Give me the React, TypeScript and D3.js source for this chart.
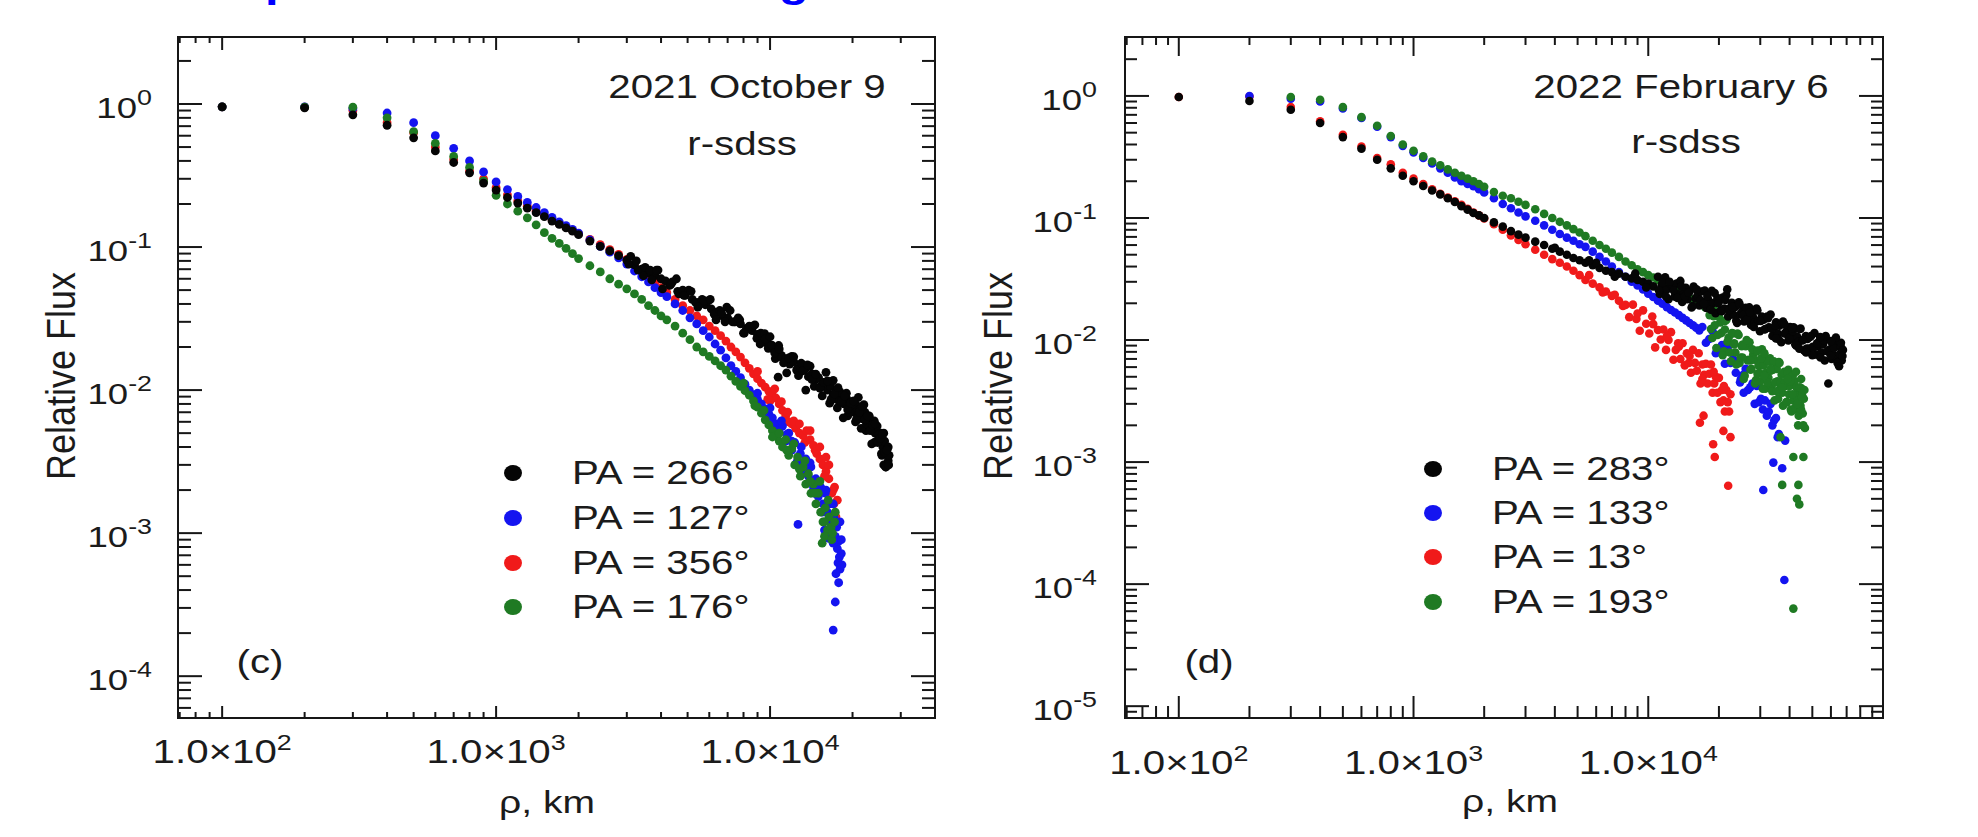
import React, { useEffect, useRef } from "react";
import * as d3 from "d3";

const W = 1978;
const H = 837;
const FONT = "'Liberation Sans', Arial, Helvetica, sans-serif";
const SX = 1.22; // the figure is stretched horizontally
const INK = "#1b1b1b";

// ---- 2021 October 9, [rho km, relative flux] ----
const octBlack = [
  [100, 0.955], [200, 0.94], [300, 0.84], [400, 0.71], [500, 0.58], [600, 0.47], [700, 0.39], [800, 0.33], [900, 0.28], [1000, 0.25],
  [1100, 0.222], [1200, 0.203], [1300, 0.187], [1400, 0.174], [1500, 0.163], [1600, 0.152], [1700, 0.144], [1800, 0.136], [1900, 0.129], [2000, 0.122],
  [2200, 0.11], [2400, 0.101], [2600, 0.094], [2800, 0.087], [3000, 0.081], [3200, 0.075], [3400, 0.07], [3600, 0.066], [3800, 0.063], [4000, 0.06],
  [4300, 0.054], [4600, 0.049], [4900, 0.046], [5200, 0.043], [5500, 0.041], [5800, 0.0395], [6100, 0.037], [6400, 0.035], [6700, 0.033], [7000, 0.032],
  [7400, 0.03], [7800, 0.029], [8200, 0.027], [8600, 0.026], [9000, 0.0245], [9400, 0.023], [9800, 0.021], [10200, 0.0195], [10600, 0.0185], [11000, 0.0175],
  [3100, 0.086], [3300, 0.069], [3500, 0.072], [3700, 0.059], [3900, 0.069], [4150, 0.058], [4400, 0.057], [4650, 0.047], [4800, 0.05], [5050, 0.05],
  [5350, 0.041], [5650, 0.043], [5950, 0.042], [6250, 0.034], [6550, 0.036], [6850, 0.03], [7150, 0.036], [7450, 0.03], [7750, 0.031], [8050, 0.025],
  [8350, 0.027], [8650, 0.028], [8950, 0.023], [9250, 0.025], [9550, 0.0248], [9850, 0.0196], [10150, 0.0206], [10450, 0.0166], [10750, 0.0205], [11050, 0.017],
  [3050, 0.076], [3250, 0.08], [3450, 0.063], [3650, 0.069], [3850, 0.069], [4050, 0.051], [4350, 0.055], [4550, 0.06], [4850, 0.046], [5150, 0.049],
  [5450, 0.038], [5750, 0.042], [6050, 0.043], [6350, 0.031], [6650, 0.0345], [6950, 0.038], [7300, 0.03], [7650, 0.032], [8000, 0.025], [8400, 0.028],
  [8800, 0.0286], [9200, 0.021], [9600, 0.0228], [10000, 0.0236], [10400, 0.0182], [10800, 0.0194],
  [10700, 0.0123],
  [11400, 0.0165], [11800, 0.0152], [12200, 0.0158], [12600, 0.0142], [13000, 0.0135], [13400, 0.014], [13800, 0.0124], [14200, 0.013], [14600, 0.0118], [15000, 0.0122],
  [15400, 0.0108], [15800, 0.0113], [16200, 0.01], [16600, 0.0106], [16800, 0.0115], [17000, 0.0092], [17400, 0.0098], [17600, 0.0075], [17800, 0.0085], [18200, 0.0094],
  [18600, 0.008], [19000, 0.0088], [19200, 0.0066], [19400, 0.0075], [19800, 0.0083], [20200, 0.007], [20600, 0.0079], [20800, 0.0062], [21000, 0.0068], [21400, 0.0074],
  [21800, 0.0063], [22200, 0.007], [22400, 0.0052], [22600, 0.0058], [23000, 0.0066], [23400, 0.0055], [23800, 0.006], [24000, 0.0043], [24200, 0.005], [24600, 0.0056],
  [25000, 0.0046], [25400, 0.005], [25600, 0.0035], [25800, 0.004], [26000, 0.003], [26200, 0.0044], [26400, 0.0029], [26500, 0.0036], [26800, 0.0039], [27000, 0.0032], [27200, 0.0035],
  [11500, 0.0132], [12000, 0.0172], [12500, 0.0138], [13000, 0.0154], [13500, 0.01], [14000, 0.0147], [14500, 0.0106], [15000, 0.0122], [15500, 0.0091], [16000, 0.0133],
  [16500, 0.0081], [17000, 0.0117], [17500, 0.0086], [18000, 0.0097], [18500, 0.0064], [19000, 0.0095], [19500, 0.007], [20000, 0.008], [20500, 0.006], [21000, 0.0089],
  [21500, 0.0054], [22000, 0.0079], [22500, 0.0058], [23000, 0.0065], [23500, 0.0042], [24000, 0.0061], [24500, 0.0044], [25000, 0.0049], [25500, 0.0036], [26000, 0.005],
  [26500, 0.0029], [27000, 0.004],
  [11200, 0.0155], [11700, 0.0168], [12200, 0.0171], [12700, 0.0126], [13200, 0.0137], [13700, 0.015], [14200, 0.0119], [14700, 0.0129], [15200, 0.0103], [15700, 0.0113],
  [16200, 0.0116], [16700, 0.0086], [17200, 0.0094], [17700, 0.0104], [18200, 0.0083], [18700, 0.0091], [19200, 0.0073], [19700, 0.0081], [20200, 0.0084], [20700, 0.0063],
  [21200, 0.007], [21700, 0.0077], [22200, 0.0062], [22700, 0.0066], [23200, 0.0052], [23700, 0.0057], [24200, 0.0058], [24700, 0.0043], [25200, 0.0046], [25700, 0.0049],
  [26200, 0.0037], [26700, 0.0038], [27100, 0.003],
];

const octBlue = [
  [100, 0.955], [200, 0.955], [300, 0.93], [400, 0.865], [500, 0.74], [600, 0.6], [700, 0.49], [800, 0.4], [900, 0.335], [1000, 0.285],
  [1100, 0.252], [1200, 0.226], [1300, 0.205], [1400, 0.189], [1500, 0.174], [1600, 0.161], [1700, 0.15], [1800, 0.141], [1900, 0.133], [2000, 0.125],
  [2200, 0.112], [2400, 0.101], [2600, 0.092], [2800, 0.084], [3000, 0.076], [3200, 0.068], [3400, 0.062], [3600, 0.057], [3800, 0.052], [4000, 0.048],
  [4200, 0.045], [4500, 0.04], [4800, 0.036], [5100, 0.032], [5400, 0.029], [5700, 0.026], [6000, 0.0235], [6300, 0.021], [6600, 0.019], [6900, 0.0168],
  [7200, 0.0148], [7500, 0.0135], [7800, 0.0122], [8100, 0.011], [8400, 0.01], [8700, 0.0093], [9000, 0.0086], [9300, 0.008], [9600, 0.0074], [9900, 0.0068],
  [10200, 0.0064], [10500, 0.0058], [10800, 0.0053], [11100, 0.0056], [11400, 0.0044], [11700, 0.005], [12000, 0.0038], [12300, 0.0043], [12600, 0.0032], [12900, 0.0036],
  [13200, 0.0028], [13500, 0.0033], [13800, 0.0025], [14100, 0.0029], [14400, 0.0021], [14700, 0.0024], [15000, 0.0018], [15300, 0.0021], [15600, 0.0016], [15900, 0.0019],
  [16200, 0.0014], [16500, 0.0016], [16800, 0.0012], [17100, 0.0013], [17300, 0.00095], [17500, 0.0011], [17600, 0.00078], [17800, 0.00088], [17700, 0.00062], [17900, 0.00068],
  [18000, 0.00056], [15800, 0.00105], [16400, 0.00092], [17000, 0.00085], [18200, 0.00072], [18300, 0.0006], [17400, 0.00052],
  [9000, 0.0095], [9500, 0.0072], [10000, 0.0075], [10500, 0.0052], [11000, 0.0061], [11500, 0.0049], [12000, 0.0044], [12500, 0.0031], [13000, 0.004], [13500, 0.0027],
  [14000, 0.0031], [14500, 0.0019], [15000, 0.0022], [15500, 0.0014], [16000, 0.002], [16500, 0.0012], [17000, 0.0016], [17500, 0.0009], [18000, 0.0012], [18200, 0.0009], [17800, 0.00045],
  [12650, 0.00115], [17300, 0.00033], [17000, 0.00021],
];

const octRed = [
  [100, 0.955], [200, 0.95], [300, 0.9], [400, 0.74], [500, 0.63], [600, 0.5], [700, 0.41], [800, 0.34], [900, 0.3], [1000, 0.26],
  [1100, 0.232], [1200, 0.21], [1300, 0.193], [1400, 0.178], [1500, 0.166], [1600, 0.155], [1700, 0.146], [1800, 0.138], [1900, 0.131], [2000, 0.124],
  [2200, 0.113], [2400, 0.104], [2600, 0.096], [2800, 0.089], [3000, 0.082], [3200, 0.075], [3400, 0.068], [3600, 0.062], [3800, 0.057], [4000, 0.052],
  [4200, 0.048], [4500, 0.043], [4800, 0.039], [5100, 0.036], [5400, 0.033], [5700, 0.031], [6000, 0.028], [6300, 0.026], [6600, 0.024], [6900, 0.022],
  [7200, 0.02], [7500, 0.0185], [7800, 0.017], [8100, 0.0155], [8400, 0.0142], [8700, 0.013], [9000, 0.012], [9300, 0.0112], [9600, 0.0105], [9900, 0.0098],
  [10200, 0.0092], [10500, 0.0088], [10000, 0.0084], [10800, 0.008], [11100, 0.0072], [11400, 0.0066], [11700, 0.006], [12000, 0.0058], [12400, 0.0054], [12800, 0.005],
  [13200, 0.0048], [13600, 0.0052], [14000, 0.0045], [14400, 0.0041], [14800, 0.0036], [15200, 0.0033], [15600, 0.003], [16000, 0.0027], [16400, 0.0024], [16800, 0.0019],
  [17100, 0.0016], [17400, 0.0013], [17200, 0.0021],
  [9000, 0.0135], [9800, 0.0086], [10400, 0.0102], [11000, 0.0083], [11600, 0.007], [12200, 0.0061], [12800, 0.0058], [13400, 0.0043], [14000, 0.0052], [14600, 0.0038],
  [15200, 0.004], [15800, 0.0025], [16400, 0.003], [17000, 0.002], [17600, 0.0017], [16000, 0.0034],
];

const octGreen = [
  [100, 0.955], [200, 0.95], [300, 0.95], [400, 0.8], [500, 0.64], [600, 0.53], [700, 0.43], [800, 0.36], [900, 0.29], [1000, 0.23],
  [1100, 0.2], [1200, 0.178], [1300, 0.16], [1400, 0.143], [1500, 0.126], [1600, 0.115], [1700, 0.106], [1800, 0.098], [1900, 0.09], [2000, 0.083],
  [2200, 0.074], [2400, 0.067], [2600, 0.06], [2800, 0.055], [3000, 0.051], [3200, 0.047], [3400, 0.043], [3600, 0.039], [3800, 0.036], [4000, 0.033],
  [4200, 0.031], [4500, 0.028], [4800, 0.025], [5100, 0.0225], [5400, 0.02], [5700, 0.0185], [6000, 0.0172], [6300, 0.016], [6600, 0.0148], [6900, 0.0138],
  [7200, 0.0125], [7500, 0.0115], [7800, 0.0106], [8100, 0.0099], [8400, 0.0092], [8700, 0.0084], [9000, 0.0076], [9300, 0.0069], [9600, 0.0062], [9900, 0.0057],
  [10200, 0.0052], [10500, 0.0048], [10800, 0.0044], [11100, 0.004], [11400, 0.0045], [11700, 0.0035], [12000, 0.0039], [12300, 0.003], [12600, 0.0034], [12900, 0.0025],
  [13200, 0.0029], [13500, 0.0022], [13800, 0.0026], [14100, 0.0019], [14400, 0.0022], [14700, 0.0016], [15000, 0.0019], [15300, 0.0014], [15600, 0.0012], [15900, 0.0015],
  [16200, 0.00105], [15500, 0.00085], [16400, 0.0013], [16700, 0.0011], [15800, 0.00095], [16800, 0.0009], [17200, 0.0012],
  [8000, 0.0112], [8800, 0.0078], [9500, 0.0072], [10200, 0.0047], [10800, 0.005], [11500, 0.0038], [12200, 0.0042], [12800, 0.0028], [13400, 0.0032], [14000, 0.0023],
  [14600, 0.0019], [15200, 0.0023], [15800, 0.0012], [16300, 0.0017], [16900, 0.001], [17300, 0.0014],
];

// ---- 2022 February 6 ----
const febBlack = [
  [100, 0.98], [200, 0.91], [300, 0.77], [400, 0.6], [500, 0.46], [600, 0.37], [700, 0.3], [800, 0.255], [900, 0.222], [1000, 0.2],
  [1100, 0.183], [1200, 0.168], [1300, 0.156], [1400, 0.145], [1500, 0.135], [1600, 0.125], [1700, 0.117], [1800, 0.11], [1900, 0.105], [2000, 0.1],
  [2200, 0.092], [2400, 0.085], [2600, 0.078], [2800, 0.073], [3000, 0.069], [3300, 0.064], [3600, 0.06], [3900, 0.056], [4200, 0.053], [4500, 0.05],
  [4800, 0.047], [5100, 0.045], [5400, 0.043], [5800, 0.041], [6200, 0.039], [6600, 0.037], [7000, 0.036], [7500, 0.035], [8000, 0.033], [8500, 0.032],
  [9000, 0.031], [9500, 0.03], [10000, 0.029], [10500, 0.0275], [4000, 0.057], [6000, 0.043], [8800, 0.035], [9800, 0.027], [7200, 0.033], [5600, 0.045],
  [11000, 0.033], [11200, 0.0238], [11400, 0.0279], [11600, 0.0252], [11800, 0.0327], [12000, 0.0261], [12200, 0.0216], [12450, 0.0287], [12700, 0.0271], [12950, 0.0227],
  [13200, 0.029], [13450, 0.0237], [13700, 0.0305], [13950, 0.0205], [14200, 0.0241], [14450, 0.0268], [14700, 0.0216], [15000, 0.025], [15300, 0.0185], [15600, 0.0274],
  [15900, 0.0219], [16200, 0.023], [16500, 0.0192], [16800, 0.025], [17100, 0.0204], [17400, 0.0254], [17700, 0.0183], [18000, 0.0215], [18300, 0.0194], [18650, 0.0253],
  [19000, 0.0201], [19350, 0.0166], [19700, 0.0221], [20050, 0.021], [20400, 0.0175], [20750, 0.0223], [21100, 0.0181], [21500, 0.0233], [21900, 0.0156], [22300, 0.0183],
  [22700, 0.0202], [23100, 0.0161], [23500, 0.0187], [23900, 0.0138], [24300, 0.0204], [24700, 0.0163], [25150, 0.0171], [25600, 0.0142], [26050, 0.0184], [26500, 0.0149],
  [26950, 0.0185], [27400, 0.0133], [27900, 0.0155], [28400, 0.014], [28900, 0.0181], [29400, 0.0143], [29900, 0.0118], [30450, 0.0156], [31000, 0.0147], [31550, 0.0123],
  [32100, 0.0156], [32650, 0.0127], [33200, 0.0162], [33800, 0.0108], [34400, 0.0127], [35000, 0.014], [35600, 0.0113], [36200, 0.0131], [36850, 0.0096], [37500, 0.0142],
  [38150, 0.0113], [38800, 0.0118], [39500, 0.0099], [40200, 0.0128], [40900, 0.0103], [41600, 0.0127], [42300, 0.0092], [43050, 0.0107], [43800, 0.0097], [44550, 0.0124],
  [45300, 0.0099], [46100, 0.0082], [46900, 0.0108], [47700, 0.0102], [48500, 0.0085], [49350, 0.0108], [50200, 0.0088], [51050, 0.0114], [51900, 0.0076], [52800, 0.0089],
  [53700, 0.0099], [54600, 0.0079], [55500, 0.0092], [56450, 0.0068], [57400, 0.0101], [58400, 0.0081], [59400, 0.0084], [60400, 0.007], [61400, 0.0091], [62450, 0.0074],
  [63500, 0.0092], [64550, 0.0066], [65600, 0.0077], [66700, 0.0068],
  [11100, 0.0256], [11500, 0.0295], [11900, 0.0227], [12325, 0.03], [12825, 0.0256], [13325, 0.0221], [13825, 0.0274], [14325, 0.0228], [14850, 0.0244], [15450, 0.019],
  [16050, 0.026], [16650, 0.0213], [17250, 0.0199], [17850, 0.0229], [18475, 0.0177], [19175, 0.0243], [19875, 0.02], [20575, 0.0172], [21300, 0.0213], [22100, 0.0176],
  [22900, 0.0186], [23700, 0.0144], [24500, 0.0196], [25375, 0.016], [26275, 0.0147], [27175, 0.0168], [28150, 0.0128], [29150, 0.0175], [30175, 0.0143], [31275, 0.0122],
  [32375, 0.0151], [33500, 0.0124], [34700, 0.0131], [35900, 0.0102], [37175, 0.0138], [38475, 0.0113], [39850, 0.0104], [41250, 0.0118], [42675, 0.009], [44175, 0.0123],
  [45700, 0.01], [47300, 0.0085], [48925, 0.0106], [50625, 0.0087], [52350, 0.0094], [54150, 0.0072], [55975, 0.0099], [57900, 0.0081], [59900, 0.0075], [61900, 0.0086],
  [64000, 0.0065], [66100, 0.0088],
  [67500, 0.0083], [66200, 0.0095], [65000, 0.0061], [67200, 0.0074], [63000, 0.0105], [60000, 0.0098], [57000, 0.0108], [54000, 0.0106], [50000, 0.0075], [47000, 0.0079],
  [44000, 0.0085], [41000, 0.0125], [38000, 0.0135], [35000, 0.0103], [21700, 0.026], [58500, 0.0044],
];

const febBlue = [
  [200, 1.0], [300, 0.95], [400, 0.9], [500, 0.79], [600, 0.66], [700, 0.56], [800, 0.46], [900, 0.39], [1000, 0.345],
  [1100, 0.31], [1200, 0.28], [1300, 0.255], [1400, 0.235], [1500, 0.215], [1600, 0.2], [1700, 0.19], [1800, 0.182], [1900, 0.172], [2000, 0.162],
  [2200, 0.145], [2400, 0.13], [2600, 0.12], [2800, 0.111], [3000, 0.103], [3300, 0.095], [3600, 0.087], [3900, 0.08], [4200, 0.074], [4500, 0.069],
  [4800, 0.065], [5100, 0.061], [5400, 0.058], [5800, 0.053], [6200, 0.048], [6600, 0.044], [7000, 0.04], [7500, 0.036], [8000, 0.033], [8500, 0.03],
  [9000, 0.028], [9500, 0.026], [10000, 0.024], [10500, 0.0225], [11000, 0.021], [11500, 0.0198], [12000, 0.0186], [12500, 0.0176], [13000, 0.0168], [13500, 0.016],
  [14000, 0.0152], [14500, 0.0145], [15000, 0.0138], [15500, 0.0132], [16000, 0.0126], [16500, 0.012],
  [17000, 0.0128], [17600, 0.0095], [18200, 0.0102], [18800, 0.0118], [19400, 0.0078], [20000, 0.0084], [20600, 0.0091], [21200, 0.0064], [21800, 0.0087], [22400, 0.0065],
  [23000, 0.007], [23600, 0.0054], [24200, 0.0066], [24800, 0.0048], [25400, 0.0052], [26000, 0.0058], [26600, 0.0039], [27200, 0.0041], [27800, 0.0044], [28400, 0.003],
  [29000, 0.0042], [29600, 0.0031], [30200, 0.0033], [30800, 0.0027], [31400, 0.0032], [32000, 0.0024], [32600, 0.0026], [33200, 0.003], [33800, 0.002], [34400, 0.0022],
  [35000, 0.0023], [35600, 0.0016],
  [24600, 0.0045], [25500, 0.0037], [34100, 0.00099], [37200, 0.00089], [30900, 0.00059], [38000, 0.000108], [38300, 0.0015], [36000, 0.0017],
];

const febRed = [
  [100, 0.98], [200, 0.99], [300, 0.81], [400, 0.62], [500, 0.48], [600, 0.385], [700, 0.31], [800, 0.275], [900, 0.235], [1000, 0.21],
  [1100, 0.19], [1200, 0.172], [1300, 0.158], [1400, 0.147], [1500, 0.137], [1600, 0.128], [1700, 0.119], [1800, 0.111], [1900, 0.105], [2000, 0.099],
  [2200, 0.089], [2400, 0.08], [2600, 0.072], [2800, 0.066], [3000, 0.061], [3300, 0.055], [3600, 0.05], [3900, 0.046], [4200, 0.043], [4500, 0.04],
  [4800, 0.037], [5100, 0.034], [5400, 0.031], [5800, 0.029], [6200, 0.027], [6600, 0.025], [7000, 0.023], [7500, 0.021],
  [5600, 0.034], [6400, 0.0245], [7200, 0.0235], [7800, 0.019],
  [8000, 0.0194], [8300, 0.0154], [8600, 0.0195], [8900, 0.0149], [9200, 0.0119], [9500, 0.0175], [9800, 0.0136], [10100, 0.0113], [10400, 0.0156], [10700, 0.0087],
  [11000, 0.0121], [11300, 0.0101], [11600, 0.0122], [11900, 0.0083], [12200, 0.01], [12500, 0.0116], [12800, 0.0069], [13100, 0.0083], [13400, 0.0094], [13700, 0.007],
  [14000, 0.0094], [14300, 0.0062], [14600, 0.0078], [14900, 0.0065], [15200, 0.0054], [15500, 0.0083], [15800, 0.0065], [16100, 0.0056], [16400, 0.0078], [16700, 0.0044],
  [17000, 0.0063], [17300, 0.0052], [17600, 0.0064], [17900, 0.0044], [18200, 0.0053], [18500, 0.0063], [18800, 0.0037], [19100, 0.0044], [19400, 0.005], [19700, 0.0037],
  [20000, 0.0049], [20300, 0.0031], [20600, 0.0039], [20900, 0.0032], [21200, 0.0026], [21500, 0.0039], [21800, 0.0031], [22100, 0.0026], [22400, 0.0036],
  [9000, 0.0165], [10500, 0.0135], [12000, 0.0108], [13500, 0.0088], [15000, 0.0074], [17000, 0.0048], [19000, 0.0055], [21000, 0.0042],
  [16600, 0.0021], [20900, 0.0018], [18900, 0.0014], [22400, 0.0016], [19200, 0.0011], [21900, 0.00064], [17200, 0.0024],
];

const febGreen = [
  [300, 0.98], [400, 0.93], [500, 0.81], [600, 0.67], [700, 0.57], [800, 0.47], [900, 0.4], [1000, 0.355],
  [1100, 0.32], [1200, 0.29], [1300, 0.27], [1400, 0.25], [1500, 0.235], [1600, 0.222], [1700, 0.21], [1800, 0.2], [1900, 0.19], [2000, 0.18],
  [2200, 0.163], [2400, 0.152], [2600, 0.145], [2800, 0.136], [3000, 0.128], [3300, 0.118], [3600, 0.108], [3900, 0.1], [4200, 0.093], [4500, 0.087],
  [4800, 0.081], [5100, 0.076], [5400, 0.071], [5800, 0.065], [6200, 0.06], [6600, 0.056], [7000, 0.052], [7500, 0.048], [8000, 0.044], [8500, 0.041],
  [9000, 0.038], [9500, 0.036], [10000, 0.034], [10500, 0.0325], [11000, 0.031], [11500, 0.0295], [12000, 0.028], [12500, 0.027], [13000, 0.026], [13500, 0.025],
  [14000, 0.024], [14500, 0.023], [15000, 0.022], [15500, 0.0215], [16000, 0.021], [16500, 0.02], [17000, 0.0195], [17500, 0.0185],
  [18000, 0.019], [18500, 0.0123], [19000, 0.0157], [19500, 0.0086], [20000, 0.0155], [20500, 0.0114], [21000, 0.0081], [21500, 0.0146], [22000, 0.0105], [22500, 0.0067],
  [23000, 0.0113], [23500, 0.0079], [24000, 0.0113], [24500, 0.0065], [25000, 0.0089], [25500, 0.0048], [26000, 0.0089], [26500, 0.0068], [27000, 0.0096], [27500, 0.0058],
  [28000, 0.0076], [28500, 0.0044], [29000, 0.0081], [29500, 0.0062], [30000, 0.0046], [30500, 0.0084], [31000, 0.0062], [31500, 0.004], [32000, 0.0068], [32500, 0.0049],
  [33000, 0.0071], [33500, 0.0042], [34000, 0.0057], [34500, 0.0032], [35000, 0.0059], [35500, 0.0046], [36000, 0.0066], [36500, 0.004], [37000, 0.0052], [37500, 0.0029],
  [38000, 0.0055], [38500, 0.0042], [39000, 0.0031], [39500, 0.0057], [40000, 0.0042], [40500, 0.0027], [41000, 0.0046], [41500, 0.0032], [42000, 0.0046], [42500, 0.0027],
  [43000, 0.0036], [43500, 0.002], [44000, 0.0038], [44500, 0.0029], [45000, 0.004], [45500, 0.0025], [46000, 0.0033], [46500, 0.0019],
  [18250, 0.016], [18750, 0.0104], [19250, 0.0173], [19750, 0.011], [20250, 0.0139], [20750, 0.0075], [21250, 0.0143], [21750, 0.0097], [22250, 0.0079], [22750, 0.0114],
  [23250, 0.0094], [23750, 0.0063], [24250, 0.011], [24750, 0.0072], [25250, 0.0092], [25750, 0.0051], [26250, 0.01], [26750, 0.0069], [27250, 0.0057], [27750, 0.0084],
  [28250, 0.0069], [28750, 0.0047], [29250, 0.0082], [29750, 0.0054], [30250, 0.0071], [30750, 0.004], [31250, 0.0078], [31750, 0.0054], [32250, 0.0045], [32750, 0.0067],
  [33250, 0.0056], [33750, 0.0038], [34250, 0.0067], [34750, 0.0045], [35250, 0.0058], [35750, 0.0033], [36250, 0.0065], [36750, 0.0045], [37250, 0.0037], [37750, 0.0054],
  [38250, 0.0045], [38750, 0.0031], [39250, 0.0054], [39750, 0.0036], [40250, 0.0046], [40750, 0.0026], [41250, 0.0051], [41750, 0.0034], [42250, 0.0028], [42750, 0.0041],
  [43250, 0.0034], [43750, 0.0024], [44250, 0.0041], [44750, 0.0027], [45250, 0.0035], [45750, 0.002], [46250, 0.0039],
  [19200, 0.0132], [21200, 0.0122], [23200, 0.0092], [25200, 0.0072], [27200, 0.0068], [29200, 0.0053], [31200, 0.0051], [33200, 0.0058], [35200, 0.0038], [37200, 0.0041],
  [39200, 0.0048], [41200, 0.0036], [43200, 0.003], [45200, 0.0034], [44800, 0.0048], [42600, 0.0055],
  [36600, 0.0016], [41500, 0.0011], [45800, 0.0011], [37200, 0.00065], [43600, 0.00065], [43000, 0.0005], [44000, 0.00045], [41500, 0.000063],
];

const octLegend = ["PA = 266°", "PA = 127°", "PA = 356°", "PA = 176°"];
const febLegend = ["PA = 283°", "PA = 133°", "PA = 13°", "PA = 193°"];
const legendColors = ["#050505", "#1414f0", "#f01a1a", "#1f7a23"]; // black, blue, red, green
const xLabelPowers = [2, 3, 4];

const panels = [
  {
    frame: [178, 37, 935, 718],
    xDomain: [69, 40000],
    yDomain: [5.1e-5, 2.94],
    // drawing order: red, blue, green, black
    series: [octRed, octBlue, octGreen, octBlack],
    seriesColors: [legendColors[2], legendColors[1], legendColors[3], legendColors[0]],
    dotR: 4.4,
    ticks: { yMaj: 24, yMin: 13, xMajB: 12, xMinB: 6, xMajT: 13, xMinT: 6 },
    date: "2021 October 9", dateX: 747, filterX: 742, filterY: 155,
    tag: "(c)", tagX: 260,
    legend: octLegend, legX: 513, legY: [473, 518, 563, 607], legTextX: 572,
    yLabelX: 75, yTickEnd: 152, xTickBase: 763, xTitleX: 547, xTitleY: 813,
  },
  {
    frame: [1125, 37, 1883, 718],
    xDomain: [59, 100000],
    yDomain: [8e-6, 3.04],
    series: [febRed, febBlue, febGreen, febBlack],
    seriesColors: [legendColors[2], legendColors[1], legendColors[3], legendColors[0]],
    dotR: 4.3,
    ticks: { yMaj: 24, yMin: 12, xMajB: 22, xMinB: 12, xMajT: 19, xMinT: 8 },
    date: "2022 February 6", dateX: 1681, filterX: 1686, filterY: 153,
    tag: "(d)", tagX: 1209,
    legend: febLegend, legX: 1433, legY: [469, 513, 557, 602], legTextX: 1492,
    yLabelX: 1012, yTickEnd: 1097, xTickBase: 774, xTitleX: 1510, xTitleY: 812,
  },
];

function txt(g, str, x, y, size, anchor = "start", sx = SX) {
  return g
    .append("text")
    .attr("transform", `translate(${x},${y}) scale(${sx},1)`)
    .attr("text-anchor", anchor)
    .attr("font-family", FONT)
    .attr("font-size", size)
    .attr("fill", INK)
    .text(str);
}

function powerTxt(g, base, exp, x, y, size, supSize, raise, anchor) {
  const t = g
    .append("text")
    .attr("transform", `translate(${x},${y}) scale(${SX},1)`)
    .attr("text-anchor", anchor)
    .attr("font-family", FONT)
    .attr("font-size", size)
    .attr("fill", INK);
  t.append("tspan").text(base);
  t.append("tspan").attr("dy", -raise).attr("font-size", supSize).text(exp);
}

function drawPanel(g, p) {
  const [x0, y0, x1, y1] = p.frame;
  const x = d3.scaleLog().domain(p.xDomain).range([x0, x1]);
  const y = d3.scaleLog().domain(p.yDomain).range([y1, y0]);
  const isMajor = (v) => Math.abs(Math.log10(v) - Math.round(Math.log10(v))) < 1e-6;
  const tk = p.ticks;
  const axis = g.append("g").attr("stroke", "#161616").attr("stroke-width", 2);

  x.ticks().forEach((v) => {
    const px = x(v);
    if (px < x0 + 1 || px > x1 - 1) return;
    const m = isMajor(v);
    axis.append("line").attr("x1", px).attr("x2", px).attr("y1", y1).attr("y2", y1 - (m ? tk.xMajB : tk.xMinB));
    axis.append("line").attr("x1", px).attr("x2", px).attr("y1", y0).attr("y2", y0 + (m ? tk.xMajT : tk.xMinT));
  });
  y.ticks().forEach((v) => {
    const py = y(v);
    if (py < y0 + 1 || py > y1 - 1) return;
    const len = isMajor(v) ? tk.yMaj : tk.yMin;
    axis.append("line").attr("x1", x0).attr("x2", x0 + len).attr("y1", py).attr("y2", py);
    axis.append("line").attr("x1", x1).attr("x2", x1 - len).attr("y1", py).attr("y2", py);
  });
  axis
    .append("rect")
    .attr("x", x0)
    .attr("y", y0)
    .attr("width", x1 - x0)
    .attr("height", y1 - y0)
    .attr("fill", "none");

  // y tick labels
  y.ticks()
    .filter(isMajor)
    .forEach((v) => {
      const e = Math.round(Math.log10(v));
      powerTxt(g, "10", String(e), p.yTickEnd, y(v) + 14, 30, 22, 13, "end");
    });
  // x tick labels
  xLabelPowers.forEach((e) => {
    powerTxt(g, "1.0×10", String(e), x(Math.pow(10, e)), p.xTickBase, 33, 22, 13, "middle");
  });

  // points
  p.series.forEach((s, i) => {
    g.append("g")
      .attr("fill", p.seriesColors[i])
      .selectAll("circle")
      .data(s)
      .join("circle")
      .attr("cx", (d) => x(d[0]))
      .attr("cy", (d) => y(d[1]))
      .attr("r", p.dotR);
  });

  // annotations
  txt(g, p.date, p.dateX, 98, 33, "middle");
  txt(g, "r-sdss", p.filterX, p.filterY, 33, "middle");
  txt(g, p.tag, p.tagX, 673, 33, "middle");

  // legend
  p.legend.forEach((name, i) => {
    g.append("ellipse")
      .attr("cx", p.legX)
      .attr("cy", p.legY[i])
      .attr("rx", 9)
      .attr("ry", 8)
      .attr("fill", legendColors[i]);
    txt(g, name, p.legTextX, p.legY[i] + 11, 33, "start");
  });

  // axis titles
  g.append("text")
    .attr("transform", `translate(${p.yLabelX},376) scale(1.15,1) rotate(-90)`)
    .attr("text-anchor", "middle")
    .attr("font-family", FONT)
    .attr("font-size", 36)
    .attr("fill", INK)
    .text("Relative Flux");
  txt(g, "ρ, km", p.xTitleX, p.xTitleY, 32, "middle");
}

export default function App() {
  const ref = useRef(null);
  useEffect(() => {
    const svg = d3.select(ref.current);
    svg.selectAll("*").remove();
    svg.append("rect").attr("width", W).attr("height", H).attr("fill", "#ffffff");
    // bottom edge of the cut-off caption line above the figure
    [["p", 265], ["g", 779]].forEach(([c, xx]) => {
      svg
        .append("text")
        .attr("transform", `translate(${xx},-3.5) scale(${SX},1)`)
        .attr("font-family", FONT)
        .attr("font-weight", "bold")
        .attr("font-size", 40)
        .attr("fill", "#0000ff")
        .text(c);
    });
    panels.forEach((p) => drawPanel(svg.append("g"), p));
  }, []);
  return (
    <svg
      ref={ref}
      width={W}
      height={H}
      style={{ position: "absolute", left: 0, top: 0, display: "block" }}
    />
  );
}
